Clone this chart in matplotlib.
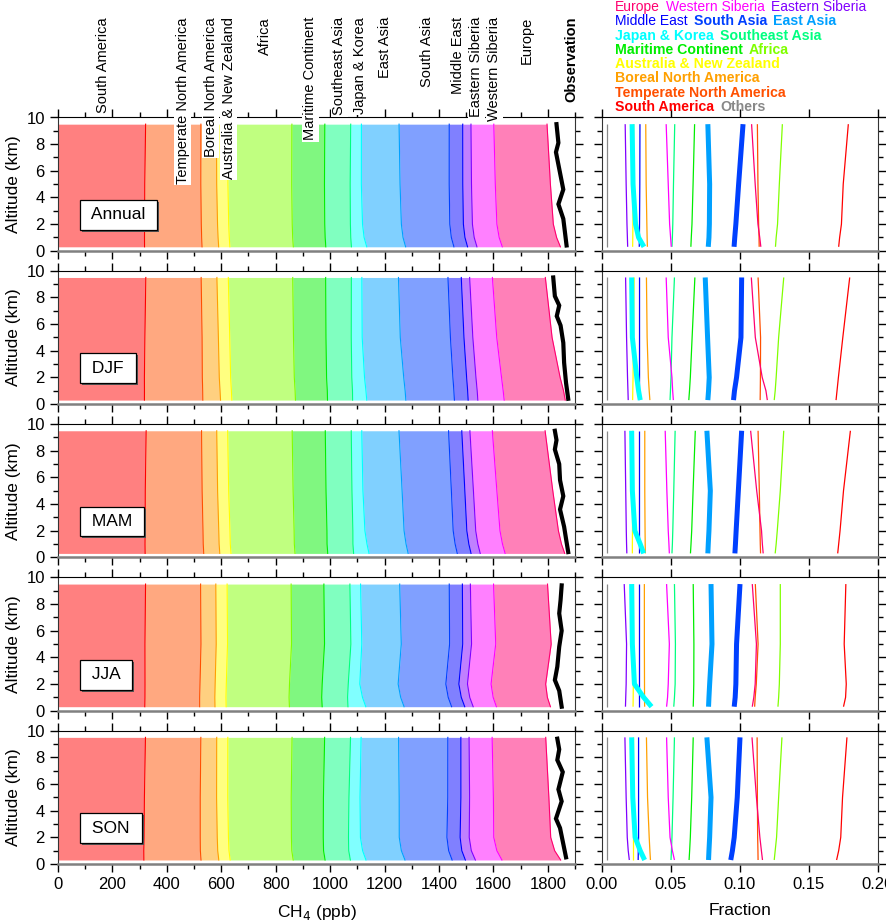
import numpy as np
import matplotlib
matplotlib.use("Agg")
import matplotlib.pyplot as plt
import matplotlib.patheffects as pe
from matplotlib.colors import to_rgb
from matplotlib.transforms import blended_transform_factory
from matplotlib.ticker import MultipleLocator, FormatStrFormatter

NARROW = ['Liberation Sans Narrow', 'Liberation Sans', 'DejaVu Sans']
REG = ['Liberation Sans', 'DejaVu Sans']

seasons = ['Annual', 'DJF', 'MAM', 'JJA', 'SON']
alt = [0.3, 1.0, 2.0, 5.0, 9.5]  # km

regions = ['South America', 'Temperate North America', 'Boreal North America',
           'Australia & New Zealand', 'Africa', 'Maritime Continent', 'Southeast Asia',
           'Japan & Korea', 'East Asia', 'South Asia', 'Middle East', 'Eastern Siberia',
           'Western Siberia', 'Europe', 'Others']
line_colors = ['#ff0000', '#ff5000', '#ffa000', '#ffff00', '#80ff00', '#00ee00', '#00ff80',
               '#00ffff', '#00a0ff', '#0040ff', '#0000ff', '#8000ff', '#ff00ff', '#ff0070',
               '#888888']
thick = ['Japan & Korea', 'East Asia', 'South Asia']

# fraction of total CH4 from each region, at the levels in alt
frac_annual = [
    [0.1715, 0.1722, 0.1735, 0.1748, 0.1785],
    [0.1139, 0.1138, 0.1135, 0.1130, 0.1126],
    [0.0329, 0.0327, 0.0325, 0.0320, 0.0317],
    [0.0222, 0.0223, 0.0224, 0.0226, 0.0230],
    [0.1257, 0.1262, 0.1272, 0.1285, 0.1307],
    [0.0644, 0.0647, 0.0652, 0.0660, 0.0671],
    [0.0507, 0.0510, 0.0513, 0.0518, 0.0527],
    [0.0304, 0.0265, 0.0243, 0.0225, 0.0218],
    [0.0770, 0.0775, 0.0778, 0.0780, 0.0767],
    [0.0957, 0.0962, 0.0970, 0.0990, 0.1022],
    [0.0270, 0.0271, 0.0272, 0.0274, 0.0275],
    [0.0186, 0.0184, 0.0181, 0.0175, 0.0168],
    [0.0502, 0.0497, 0.0490, 0.0480, 0.0465],
    [0.1151, 0.1143, 0.1130, 0.1110, 0.1084],
    [0.0037, 0.0037, 0.0037, 0.0037, 0.0037],
]
frac_djf = [
    [0.1696, 0.1703, 0.1713, 0.1745, 0.1795],
    [0.1146, 0.1147, 0.1148, 0.1149, 0.1131],
    [0.0347, 0.0342, 0.0336, 0.0327, 0.0322],
    [0.0222, 0.0223, 0.0225, 0.0228, 0.0233],
    [0.1248, 0.1255, 0.1262, 0.1280, 0.1317],
    [0.0629, 0.0634, 0.0640, 0.0653, 0.0673],
    [0.0493, 0.0496, 0.0500, 0.0507, 0.0525],
    [0.0277, 0.0265, 0.0252, 0.0220, 0.0215],
    [0.0767, 0.0772, 0.0777, 0.0765, 0.0748],
    [0.0953, 0.0960, 0.0975, 0.1007, 0.1012],
    [0.0270, 0.0271, 0.0272, 0.0272, 0.0272],
    [0.0190, 0.0188, 0.0185, 0.0178, 0.0171],
    [0.0517, 0.0512, 0.0507, 0.0480, 0.0465],
    [0.1198, 0.1188, 0.1161, 0.1111, 0.1082],
    [0.0035, 0.0035, 0.0035, 0.0035, 0.0035],
]
frac_mam = [
    [0.1708, 0.1715, 0.1725, 0.1750, 0.1800],
    [0.1149, 0.1147, 0.1145, 0.1140, 0.1131],
    [0.0314, 0.0313, 0.0312, 0.0310, 0.0310],
    [0.0220, 0.0220, 0.0221, 0.0222, 0.0223],
    [0.1255, 0.1262, 0.1270, 0.1292, 0.1317],
    [0.0641, 0.0645, 0.0650, 0.0660, 0.0676],
    [0.0507, 0.0510, 0.0513, 0.0520, 0.0530],
    [0.0302, 0.0277, 0.0238, 0.0220, 0.0215],
    [0.0767, 0.0770, 0.0775, 0.0785, 0.0760],
    [0.0963, 0.0967, 0.0972, 0.0988, 0.1012],
    [0.0270, 0.0270, 0.0270, 0.0270, 0.0270],
    [0.0180, 0.0178, 0.0176, 0.0172, 0.0166],
    [0.0488, 0.0485, 0.0480, 0.0470, 0.0458],
    [0.1168, 0.1162, 0.1156, 0.1121, 0.1077],
    [0.0035, 0.0035, 0.0035, 0.0035, 0.0035],
]
frac_jja = [
    [0.1750, 0.1765, 0.1770, 0.1755, 0.1767],
    [0.1106, 0.1110, 0.1118, 0.1131, 0.1111],
    [0.0309, 0.0308, 0.0308, 0.0307, 0.0307],
    [0.0225, 0.0226, 0.0227, 0.0228, 0.0228],
    [0.1275, 0.1280, 0.1285, 0.1292, 0.1292],
    [0.0661, 0.0663, 0.0665, 0.0666, 0.0661],
    [0.0520, 0.0525, 0.0530, 0.0532, 0.0525],
    [0.0359, 0.0302, 0.0235, 0.0220, 0.0215],
    [0.0772, 0.0775, 0.0780, 0.0797, 0.0790],
    [0.0958, 0.0965, 0.0970, 0.0975, 0.1000],
    [0.0265, 0.0265, 0.0265, 0.0265, 0.0265],
    [0.0170, 0.0172, 0.0175, 0.0178, 0.0161],
    [0.0468, 0.0475, 0.0480, 0.0488, 0.0468],
    [0.1089, 0.1100, 0.1110, 0.1119, 0.1089],
    [0.0035, 0.0035, 0.0035, 0.0035, 0.0035],
]
frac_son = [
    [0.1700, 0.1715, 0.1730, 0.1743, 0.1775],
    [0.1131, 0.1130, 0.1128, 0.1126, 0.1124],
    [0.0351, 0.0347, 0.0342, 0.0330, 0.0322],
    [0.0225, 0.0225, 0.0225, 0.0225, 0.0225],
    [0.1248, 0.1255, 0.1265, 0.1280, 0.1304],
    [0.0631, 0.0635, 0.0640, 0.0650, 0.0661],
    [0.0500, 0.0503, 0.0507, 0.0515, 0.0525],
    [0.0309, 0.0277, 0.0240, 0.0223, 0.0215],
    [0.0772, 0.0775, 0.0780, 0.0790, 0.0760],
    [0.0933, 0.0945, 0.0958, 0.0980, 0.1000],
    [0.0262, 0.0263, 0.0265, 0.0265, 0.0265],
    [0.0198, 0.0190, 0.0183, 0.0175, 0.0166],
    [0.0525, 0.0510, 0.0493, 0.0480, 0.0468],
    [0.1163, 0.1155, 0.1144, 0.1119, 0.1087],
    [0.0035, 0.0035, 0.0035, 0.0035, 0.0035],
]
fracs = [frac_annual, frac_djf, frac_mam, frac_jja, frac_son]

# simulated total CH4 (ppb) at the levels in alt
total_annual = [1855, 1846, 1835, 1824, 1804]
total_djf = [1873, 1866, 1854, 1830, 1798]
total_mam = [1875, 1865, 1857, 1833, 1800]
total_jja = [1823, 1811, 1807, 1821, 1821]
total_son = [1857, 1839, 1829, 1822, 1811]
totals = [total_annual, total_djf, total_mam, total_jja, total_son]

# observed CH4 profiles
obs_alt_annual = [9.5, 8.1, 7.4, 4.6, 3.5, 2.4, 1.4, 0.4]
obs_annual = [1832, 1839, 1830, 1857, 1839, 1857, 1863, 1869]
obs_alt_djf = [9.5, 8.1, 7.4, 6.6, 5.9, 4.6, 3.1, 1.6, 0.4]
obs_djf = [1820, 1826, 1842, 1833, 1847, 1857, 1860, 1867, 1875]
obs_alt_mam = [9.5, 8.8, 8.1, 7.0, 5.8, 4.6, 3.6, 2.3, 1.4, 0.4]
obs_mam = [1826, 1832, 1826, 1842, 1845, 1857, 1845, 1860, 1867, 1875]
obs_alt_jja = [9.4, 8.3, 7.3, 6.0, 4.8, 3.3, 2.3, 1.5, 0.3]
obs_jja = [1851, 1847, 1842, 1851, 1842, 1835, 1826, 1842, 1851]
obs_alt_son = [9.4, 8.6, 7.8, 6.9, 5.6, 4.7, 3.4, 2.7, 1.5, 0.5]
obs_son = [1835, 1842, 1835, 1855, 1839, 1851, 1830, 1845, 1857, 1867]
obs_alts = [obs_alt_annual, obs_alt_djf, obs_alt_mam, obs_alt_jja, obs_alt_son]
obs_vals = [obs_annual, obs_djf, obs_mam, obs_jja, obs_son]

# labels along the top of the left column
top_labels = ['South America', 'Temperate North America', 'Boreal North America',
              'Australia & New Zealand', 'Africa', 'Maritime Continent', 'Southeast Asia',
              'Japan & Korea', 'East Asia', 'South Asia', 'Middle East', 'Eastern Siberia',
              'Western Siberia', 'Europe', 'Observation']
top_label_x = [165, 458, 562, 628, 761, 927, 1034, 1109, 1202, 1356, 1471, 1538, 1604, 1724, 1888]

# colour key, one list per line: (name, colour, bold)
key_lines = [
    [('Europe', '#ff0070', False), ('Western Siberia', '#ff00ff', False), ('Eastern Siberia', '#8000ff', False)],
    [('Middle East', '#0000ff', False), ('South Asia', '#0040ff', True), ('East Asia', '#00a0ff', True)],
    [('Japan & Korea', '#00ffff', True), ('Southeast Asia', '#00ff80', True)],
    [('Maritime Continent', '#00ee00', True), ('Africa', '#80ff00', True)],
    [('Australia & New Zealand', '#ffff00', True)],
    [('Boreal North America', '#ffa000', True)],
    [('Temperate North America', '#ff5000', True)],
    [('South America', '#ff0000', True), ('Others', '#888888', True)],
]

W, H = 887, 922
fig = plt.figure(figsize=(W / 100, H / 100), dpi=100)

top_px, bot_px, gap_px = 117.5, 864, 20
h_px = (bot_px - top_px - 4 * gap_px) / 5
lx0, lx1 = 58, 575
rx0, rx1 = 602, 878


def fill_color(c):
    r, g, b = to_rgb(c)
    return (0.5 + 0.5 * r, 0.5 + 0.5 * g, 0.5 + 0.5 * b)


def style_axis(ax, last, xmajor, xminor):
    ax.set_ylim(0, 10)
    ax.yaxis.set_major_locator(MultipleLocator(2))
    ax.yaxis.set_minor_locator(MultipleLocator(1))
    ax.xaxis.set_major_locator(MultipleLocator(xmajor))
    if xminor:
        ax.xaxis.set_minor_locator(MultipleLocator(xminor))
    ax.tick_params(which='both', direction='out', top=True, right=True, width=1,
                   labelsize=12)
    ax.tick_params(which='major', length=6)
    ax.tick_params(which='minor', length=3.5)
    ax.tick_params(axis='x', which='both', labelbottom=last)
    ax.spines['bottom'].set_color('#808080')
    ax.spines['bottom'].set_linewidth(1.8)
    for s in ['left', 'right']:
        ax.spines[s].set_color('#333333')
    for lab in ax.get_xticklabels() + ax.get_yticklabels():
        lab.set_family(NARROW)


left_axes = []
right_axes = []
for i, season in enumerate(seasons):
    y_top = top_px + i * (h_px + gap_px)
    b = 1 - (y_top + h_px) / H
    axl = fig.add_axes([lx0 / W, b, (lx1 - lx0) / W, h_px / H])
    axr = fig.add_axes([rx0 / W, b, (rx1 - rx0) / W, h_px / H])
    left_axes.append(axl)
    right_axes.append(axr)

    fr = np.array(fracs[i])
    tot = np.array(totals[i], dtype=float)
    contrib = fr * tot
    edges = np.cumsum(contrib, axis=0)
    prev = np.zeros(len(alt))
    for k in range(len(regions) - 1):
        axl.fill_betweenx(alt, prev, edges[k], color=fill_color(line_colors[k]), lw=0)
        axl.plot(edges[k], alt, color=line_colors[k], lw=0.8)
        prev = edges[k]
    axl.plot(obs_vals[i], obs_alts[i], color='black', lw=3, solid_joinstyle='miter')
    axl.set_xlim(0, 1900)
    style_axis(axl, i == 4, 200, 100)
    axl.set_ylabel('Altitude (km)', fontsize=12.5, family=NARROW, labelpad=4)

    t = axl.text(106, 2.7, ' ' + season + ' ', fontsize=12.5, family=NARROW,
                 ha='left', va='center', zorder=6,
                 bbox=dict(boxstyle='square,pad=0.42', facecolor='white',
                           edgecolor='black', lw=0.9))
    t.get_bbox_patch().set_path_effects(
        [pe.withSimplePatchShadow(offset=(1.5, -1.5), shadow_rgbFace='#555555', alpha=1.0)])

    order = [k for k in range(len(regions)) if regions[k] not in thick] + \
            [regions.index(r) for r in thick]
    for k in order:
        lw = 3.6 if regions[k] in thick else 0.9
        axr.plot(fr[k], alt, color=line_colors[k], lw=lw, solid_capstyle='butt')
    axr.set_xlim(0, 0.2)
    style_axis(axr, i == 4, 0.05, None)
    axr.tick_params(axis='y', labelleft=False)

left_axes[-1].set_xlabel('CH$_4$ (ppb)', fontsize=12.5, family=NARROW, labelpad=8)
right_axes[-1].set_xlabel('Fraction', fontsize=12.5, family=NARROW, labelpad=8)
right_axes[-1].xaxis.set_major_formatter(FormatStrFormatter('%.2f'))
for lab in right_axes[-1].get_xticklabels():
    lab.set_family(NARROW)

# region names above the left column
trans = blended_transform_factory(left_axes[0].transData, fig.transFigure)
for name, xv in zip(top_labels, top_label_x):
    left_axes[0].text(xv, 1 - 17 / H, name, transform=trans, rotation=90,
                      ha='center', va='top', fontsize=10.5, family=REG,
                      fontweight='bold' if name == 'Observation' else 'normal',
                      bbox=dict(facecolor='white', edgecolor='none', pad=1.0),
                      clip_on=False, zorder=20)

# colour key at the top right
for j, items in enumerate(key_lines):
    yk = 1 - (7 + 14.3 * j) / H
    name, col, bold = items[0]
    prev_t = fig.text(615 / W, yk, name, color=col, fontsize=10.2 if bold else 10,
                      family=REG, fontweight='bold' if bold else 'normal',
                      va='center', ha='left')
    for name, col, bold in items[1:]:
        prev_t = right_axes[0].annotate(name, xy=(1, 0.5), xycoords=prev_t,
                                        xytext=(4.5, 0), textcoords='offset points',
                                        color=col, fontsize=10.2 if bold else 10,
                                        family=REG, fontweight='bold' if bold else 'normal',
                                        va='center', ha='left', annotation_clip=False)

fig.savefig('out.png', dpi=100)
